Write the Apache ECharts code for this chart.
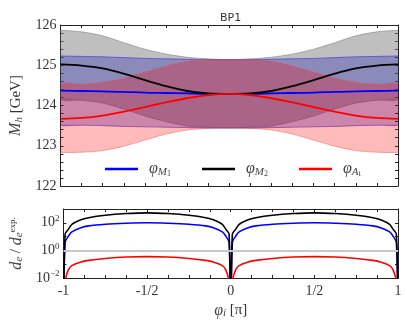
<!DOCTYPE html>
<html>
<head>
<meta charset="utf-8">
<script src="https://cdn.jsdelivr.net/npm/echarts@6/dist/echarts.min.js"></script>
<style>
  html, body { margin: 0; padding: 0; background: #fff; }
  #main { width: 407px; height: 323px; }
</style>
</head>
<body>
<div id="main"></div>
<script>
// top panel: phi_i in units of pi
const phiTop = [-1, -0.875, -0.75, -0.625, -0.5, -0.375, -0.25, -0.125, 0, 0.125, 0.25, 0.375, 0.5, 0.625, 0.75, 0.875, 1];
// M_h [GeV]
const lineM1 = [124.37, 124.36, 124.35, 124.34, 124.32, 124.31, 124.30, 124.29, 124.29, 124.29, 124.30, 124.31, 124.32, 124.34, 124.35, 124.36, 124.37];
const bandM1Lo = [123.51, 123.51, 123.50, 123.48, 123.47, 123.46, 123.45, 123.44, 123.44, 123.44, 123.45, 123.46, 123.47, 123.48, 123.50, 123.51, 123.51];
const bandM1Hi = [125.23, 125.22, 125.21, 125.19, 125.17, 125.16, 125.15, 125.14, 125.14, 125.14, 125.15, 125.16, 125.17, 125.19, 125.21, 125.22, 125.23];
const lineM2 = [125.02, 124.99, 124.92, 124.79, 124.63, 124.48, 124.36, 124.30, 124.29, 124.30, 124.36, 124.48, 124.63, 124.79, 124.92, 124.99, 125.02];
const bandM2Lo = [124.16, 124.13, 124.06, 123.91, 123.74, 123.60, 123.49, 123.46, 123.44, 123.46, 123.49, 123.60, 123.74, 123.91, 124.06, 124.13, 124.16];
const bandM2Hi = [125.87, 125.83, 125.73, 125.56, 125.40, 125.28, 125.20, 125.16, 125.14, 125.16, 125.20, 125.28, 125.40, 125.56, 125.73, 125.83, 125.87];
const lineAt = [123.67, 123.69, 123.75, 123.85, 123.96, 124.08, 124.18, 124.26, 124.29, 124.26, 124.18, 124.08, 123.96, 123.85, 123.75, 123.69, 123.67];
const bandAtLo = [122.83, 122.84, 122.88, 122.99, 123.14, 123.29, 123.39, 123.43, 123.44, 123.43, 123.39, 123.29, 123.14, 122.99, 122.88, 122.84, 122.83];
const bandAtHi = [124.52, 124.53, 124.58, 124.68, 124.83, 124.98, 125.10, 125.13, 125.14, 125.13, 125.10, 124.98, 124.83, 124.68, 124.58, 124.53, 124.52];

// bottom panel: d_e / d_e^exp
const phiBot = [-1, -0.99, -0.97, -0.95, -0.9, -0.85, -0.75, -0.625, -0.5, -0.375, -0.25, -0.15, -0.1, -0.05, -0.03, -0.01, 0,
                0.01, 0.03, 0.05, 0.1, 0.15, 0.25, 0.375, 0.5, 0.625, 0.75, 0.85, 0.9, 0.95, 0.97, 0.99, 1];
const deM1 = [0.0001, 4, 11, 22, 42, 60, 79, 93, 100, 93, 79, 60, 42, 22, 11, 4, 0.0001,
              4, 11, 22, 42, 60, 79, 93, 100, 93, 79, 60, 42, 22, 11, 4, 0.0001];
const deM2 = [0.0001, 16, 35, 76, 158, 234, 355, 468, 525, 468, 355, 234, 158, 76, 35, 16, 0.0001,
              16, 35, 76, 158, 234, 355, 468, 525, 468, 355, 234, 158, 76, 35, 16, 0.0001];
const deAt = [0.0001, 0.006, 0.04, 0.079, 0.14, 0.19, 0.26, 0.33, 0.355, 0.33, 0.26, 0.19, 0.14, 0.079, 0.04, 0.006, 0.0001,
              0.006, 0.04, 0.079, 0.14, 0.19, 0.26, 0.33, 0.355, 0.33, 0.26, 0.19, 0.14, 0.079, 0.04, 0.006, 0.0001];

const xLabels = { '-1': '-1', '-0.5': '-1/2', '0': '0', '0.5': '1/2', '1': '1' };

const serif = 'Liberation Serif';
const frame = '#222';

function pairs(xs, ys) { return xs.map((x, i) => [x, ys[i]]); }

// filled band between lo and hi, drawn as one polygon through the axes
function band(lo, hi, fill, edge) {
  return {
    type: 'custom', xAxisIndex: 0, yAxisIndex: 0, silent: true, clip: true,
    encode: { x: 0, y: [1, 2] },
    data: phiTop.map((x, i) => [x, lo[i], hi[i]]),
    renderItem: (params, api) => {
      if (params.dataIndex !== 0) return;
      const top = phiTop.map((x, i) => api.coord([x, hi[i]]));
      const bot = phiTop.map((x, i) => api.coord([x, lo[i]]));
      const poly = top.concat(bot.slice().reverse());
      const xs = poly.map(p => p[0]), ys = poly.map(p => p[1]);
      const cons = [[Math.min(...xs), Math.min(...ys)], [Math.max(...xs), Math.max(...ys)]];
      return {
        type: 'group',
        children: [
          { type: 'polygon', shape: { points: poly, smooth: 0.3, smoothConstraint: cons }, style: { fill: fill } },
          { type: 'polyline', shape: { points: top, smooth: 0.3 }, style: { stroke: edge, lineWidth: 0.8, fill: null } },
          { type: 'polyline', shape: { points: bot, smooth: 0.3 }, style: { stroke: edge, lineWidth: 0.8, fill: null } }
        ]
      };
    }
  };
}

const rich = {
  v: { fontFamily: serif, fontStyle: 'italic', fontSize: 16, color: '#444' },
  s: { fontFamily: serif, fontStyle: 'italic', fontSize: 11, color: '#444', verticalAlign: 'bottom', padding: [6, 0, 0, 0] },
  ss: { fontFamily: serif, fontSize: 8, color: '#444', verticalAlign: 'bottom', padding: [9, 0, 0, 0] }
};
const legendText = {
  'φM1': '{v|φ}{s|M}{ss|1}',
  'φM2': '{v|φ}{s|M}{ss|2}',
  'φAt': '{v|φ}{s|A}{ss|t}'
};
function legend(name, left) {
  return {
    data: [name], left: left, top: 156, icon: 'rect', itemWidth: 33, itemHeight: 2.5,
    selectedMode: false,
    formatter: n => legendText[n],
    textStyle: { padding: [0, 0, 0, 6], rich: rich }
  };
}

function xAx(grid, pos, labels) {
  return {
    type: 'value', gridIndex: grid, position: pos, min: -1, max: 1, interval: 0.125,
    axisLine: { show: true, onZero: false, lineStyle: { color: frame, width: 1 } },
    axisTick: { show: true, inside: true, length: 3, lineStyle: { color: frame } },
    axisLabel: {
      show: labels, fontFamily: serif, fontSize: 14, color: '#333', margin: 6,
      formatter: v => { const k = String(Math.round(v * 1000) / 1000); return xLabels[k] !== undefined ? xLabels[k] : ''; }
    },
    splitLine: { show: false }
  };
}

const supRich = {
  b: { fontFamily: serif, fontSize: 14, color: '#333' },
  e: { fontFamily: serif, fontSize: 9, color: '#333', verticalAlign: 'top', padding: [0, 0, 8, 0] }
};

const option = {
  animation: false,
  backgroundColor: '#fff',
  title: {
    text: 'BP1', left: 215, top: 8,
    textStyle: { fontFamily: 'DejaVu Sans', fontSize: 11, fontWeight: 'normal', color: '#333' }
  },
  legend: [legend('φM1', 100), legend('φM2', 197), legend('φAt', 294)],
  grid: [
    { left: 58, right: 9, top: 25, height: 161 },
    { left: 58, right: 9, top: 209, height: 69 }
  ],
  xAxis: [
    xAx(0, 'bottom', false),
    xAx(0, 'top', false),
    Object.assign(xAx(1, 'bottom', true), {
      name: '{v|φ}{s|i}{n| [π]}', nameLocation: 'middle', nameGap: 24,
      nameTextStyle: { rich: Object.assign({ n: { fontFamily: serif, fontSize: 15, color: '#333' } }, rich) }
    }),
    xAx(1, 'top', false)
  ],
  yAxis: [
    {
      type: 'value', gridIndex: 0, position: 'left', min: 122, max: 126, interval: 0.2,
      name: '{v|M}{s|h}{n| [GeV]}', nameLocation: 'middle', nameGap: 36, nameRotate: 90,
      nameTextStyle: { rich: Object.assign({ n: { fontFamily: serif, fontSize: 15, color: '#333' } }, rich) },
      axisLine: { show: true, onZero: false, lineStyle: { color: frame } },
      axisTick: { show: true, inside: true, length: 3, lineStyle: { color: frame } },
      axisLabel: {
        fontFamily: serif, fontSize: 14, color: '#333', margin: 4,
        formatter: v => Math.abs(v - Math.round(v)) < 1e-6 ? String(Math.round(v)) : ''
      },
      splitLine: { show: false }
    },
    {
      type: 'value', gridIndex: 0, position: 'right', min: 122, max: 126, interval: 0.2,
      axisLine: { show: true, onZero: false, lineStyle: { color: frame } },
      axisTick: { show: true, inside: true, length: 3, lineStyle: { color: frame } },
      axisLabel: { show: false }, splitLine: { show: false }
    },
    {
      type: 'log', gridIndex: 1, position: 'left', logBase: 10, min: 0.01, max: 1000, interval: 1,
      name: '{v|d}{s|e}{n| / }{v|d}{s|e}{e|exp.}', nameLocation: 'middle', nameGap: 36, nameRotate: 90,
      nameTextStyle: {
        rich: Object.assign({
          n: { fontFamily: serif, fontSize: 15, color: '#333' },
          e: { fontFamily: serif, fontSize: 9, color: '#333', verticalAlign: 'top', padding: [0, 0, 8, 0] }
        }, rich)
      },
      axisLine: { show: true, onZero: false, lineStyle: { color: frame } },
      axisTick: { show: true, inside: true, length: 3, lineStyle: { color: frame } },
      axisLabel: {
        fontFamily: serif, color: '#333', margin: 4, rich: supRich,
        formatter: v => {
          const e = Math.round(Math.log10(v));
          if (e % 2 !== 0 || e > 2) return '';
          return '{b|10}{e|' + (e < 0 ? '−' + (-e) : e) + '}';
        }
      },
      splitLine: { show: false }
    },
    {
      type: 'log', gridIndex: 1, position: 'right', logBase: 10, min: 0.01, max: 1000, interval: 1,
      axisLine: { show: true, onZero: false, lineStyle: { color: frame } },
      axisTick: { show: true, inside: true, length: 3, lineStyle: { color: frame } },
      axisLabel: { show: false }, splitLine: { show: false }
    }
  ],
  series: [
    band(bandM2Lo, bandM2Hi, 'rgba(128,128,128,0.5)', 'rgba(110,110,110,0.6)'),
    band(bandM1Lo, bandM1Hi, 'rgba(0,0,175,0.28)', 'rgba(40,40,220,0.7)'),
    band(bandAtLo, bandAtHi, 'rgba(255,0,0,0.27)', 'rgba(240,80,80,0.6)'),
    {
      name: 'φM1', type: 'line', xAxisIndex: 0, yAxisIndex: 0, smooth: 0.35, symbol: 'none',
      lineStyle: { color: '#0000ff', width: 1.8 }, itemStyle: { color: '#0000ff' },
      data: pairs(phiTop, lineM1)
    },
    {
      name: 'φM2', type: 'line', xAxisIndex: 0, yAxisIndex: 0, smooth: 0.35, symbol: 'none',
      lineStyle: { color: '#000', width: 1.8 }, itemStyle: { color: '#000' },
      data: pairs(phiTop, lineM2)
    },
    {
      name: 'φAt', type: 'line', xAxisIndex: 0, yAxisIndex: 0, smooth: 0.35, symbol: 'none',
      lineStyle: { color: '#ff0000', width: 1.8 }, itemStyle: { color: '#ff0000' },
      data: pairs(phiTop, lineAt)
    },
    {
      type: 'line', xAxisIndex: 2, yAxisIndex: 2, symbol: 'none', smooth: 0.2,
      lineStyle: { color: '#0000ff', width: 1.6 },
      markLine: {
        silent: true, symbol: 'none', label: { show: false },
        lineStyle: { color: '#c8c8c8', width: 2, type: 'solid' },
        data: [{ yAxis: 1 }]
      },
      data: pairs(phiBot, deM1)
    },
    {
      type: 'line', xAxisIndex: 2, yAxisIndex: 2, symbol: 'none', smooth: 0.2,
      lineStyle: { color: '#000', width: 1.6 },
      data: pairs(phiBot, deM2)
    },
    {
      type: 'line', xAxisIndex: 2, yAxisIndex: 2, symbol: 'none', smooth: 0.2,
      lineStyle: { color: '#ff0000', width: 1.6 },
      data: pairs(phiBot, deAt)
    }
  ]
};

const chart = echarts.init(document.getElementById('main'), null, { renderer: 'canvas' });
chart.setOption(option);
</script>
</body>
</html>
